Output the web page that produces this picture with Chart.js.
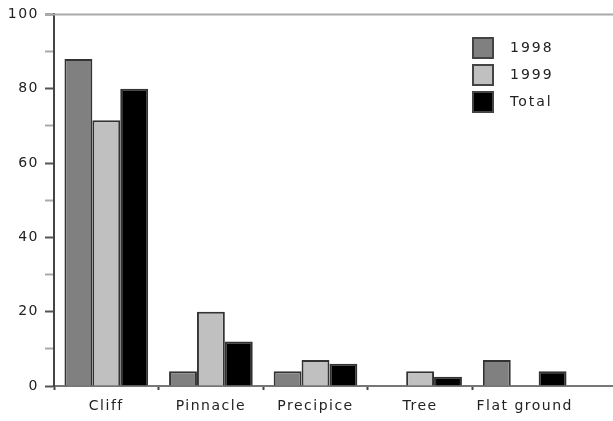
<!DOCTYPE html>
<html>
<head>
<meta charset="utf-8">
<script src="https://cdn.jsdelivr.net/npm/chart.js@4.4.1/dist/chart.umd.min.js"></script>
<style>
  html, body { margin: 0; padding: 0; background: #fff; }
  #wrap { width: 613px; height: 421px; }
</style>
</head>
<body>
<div id="wrap"><canvas id="chart"></canvas></div>
<script>
const categories = ['Cliff', 'Pinnacle', 'Precipice', 'Tree', 'Flat ground'];
const values1998 = [88, 4, 4, 0, 7];
const values1999 = [71.5, 20, 7, 4, 0];
const valuesTotal = [80, 12, 6, 2.5, 4];
const yTicks = [0, 20, 40, 60, 80, 100];

const FONT = '"DejaVu Sans", sans-serif';

// wider letters like the old mac plot (canvas resize resets state, so set it each pass)
const spacing = {
  id: 'spacing',
  beforeLayout(chart) { chart.ctx.letterSpacing = '1.5px'; },
  beforeDraw(chart) { chart.ctx.letterSpacing = '1.5px'; }
};

// top line and x axis run past the last category to the edge
const extraLines = {
  id: 'extraLines',
  afterDraw(chart) {
    const ctx = chart.ctx;
    const y = chart.scales.y;
    const area = chart.chartArea;
    ctx.save();
    ctx.lineWidth = 2;
    ctx.strokeStyle = '#aaa';
    ctx.beginPath();
    ctx.moveTo(area.left - 9, y.getPixelForValue(100));
    ctx.lineTo(chart.width, y.getPixelForValue(100));
    ctx.stroke();
    ctx.strokeStyle = '#777';
    ctx.beginPath();
    ctx.moveTo(area.right - 1, y.getPixelForValue(0));
    ctx.lineTo(chart.width, y.getPixelForValue(0));
    ctx.stroke();
    ctx.restore();
  }
};

// legend box inside the plot, top right
const boxLegend = {
  id: 'boxLegend',
  afterDraw(chart) {
    const ctx = chart.ctx;
    ctx.save();
    ctx.font = '14px ' + FONT;
    ctx.letterSpacing = '2px';
    ctx.textBaseline = 'middle';
    chart.data.datasets.forEach((ds, i) => {
      const top = 38 + i * 27;
      ctx.fillStyle = ds.backgroundColor;
      ctx.fillRect(473, top, 20, 20);
      ctx.lineWidth = 2;
      ctx.strokeStyle = '#444';
      ctx.strokeRect(473, top, 20, 20);
      ctx.fillStyle = '#222';
      ctx.fillText(ds.label, 510, top + 10);
    });
    ctx.restore();
  }
};

new Chart(document.getElementById('chart'), {
  type: 'bar',
  data: {
    labels: categories,
    datasets: [
      { label: '1998', data: values1998, backgroundColor: '#808080' },
      { label: '1999', data: values1999, backgroundColor: '#c0c0c0' },
      { label: 'Total', data: valuesTotal, backgroundColor: '#000000' }
    ]
  },
  options: {
    responsive: true,
    maintainAspectRatio: false,
    animation: false,
    layout: { padding: { top: 14, right: 36, left: 0, bottom: 0 } },
    datasets: {
      bar: {
        categoryPercentage: 0.8,
        barPercentage: 1.0,
        borderWidth: 2,
        borderColor: '#333'
      }
    },
    plugins: {
      legend: { display: false },
      tooltip: { enabled: false }
    },
    scales: {
      x: {
        afterFit(scale) { scale.height = 35; },
        border: { color: '#777', width: 2 },
        grid: {
          drawOnChartArea: false,
          tickLength: 4,
          tickWidth: 2,
          tickColor: ctx => (ctx.index < categories.length ? '#444' : 'rgba(0,0,0,0)')
        },
        ticks: { color: '#222', font: { family: FONT, size: 14 }, padding: 8, maxRotation: 0, autoSkip: false }
      },
      y: {
        min: 0,
        max: 100,
        afterFit(scale) { scale.width = 54; },
        border: { color: '#444', width: 2 },
        grid: {
          drawOnChartArea: false,
          tickLength: 9,
          tickWidth: 2,
          tickColor: ctx => (yTicks.includes(ctx.tick.value) ? '#555' : '#aaa')
        },
        ticks: {
          stepSize: 10,
          padding: 6,
          color: '#222',
          font: { family: FONT, size: 14 },
          callback: v => (yTicks.includes(v) ? v : '')
        }
      }
    }
  },
  plugins: [spacing, extraLines, boxLegend]
});
</script>
</body>
</html>
